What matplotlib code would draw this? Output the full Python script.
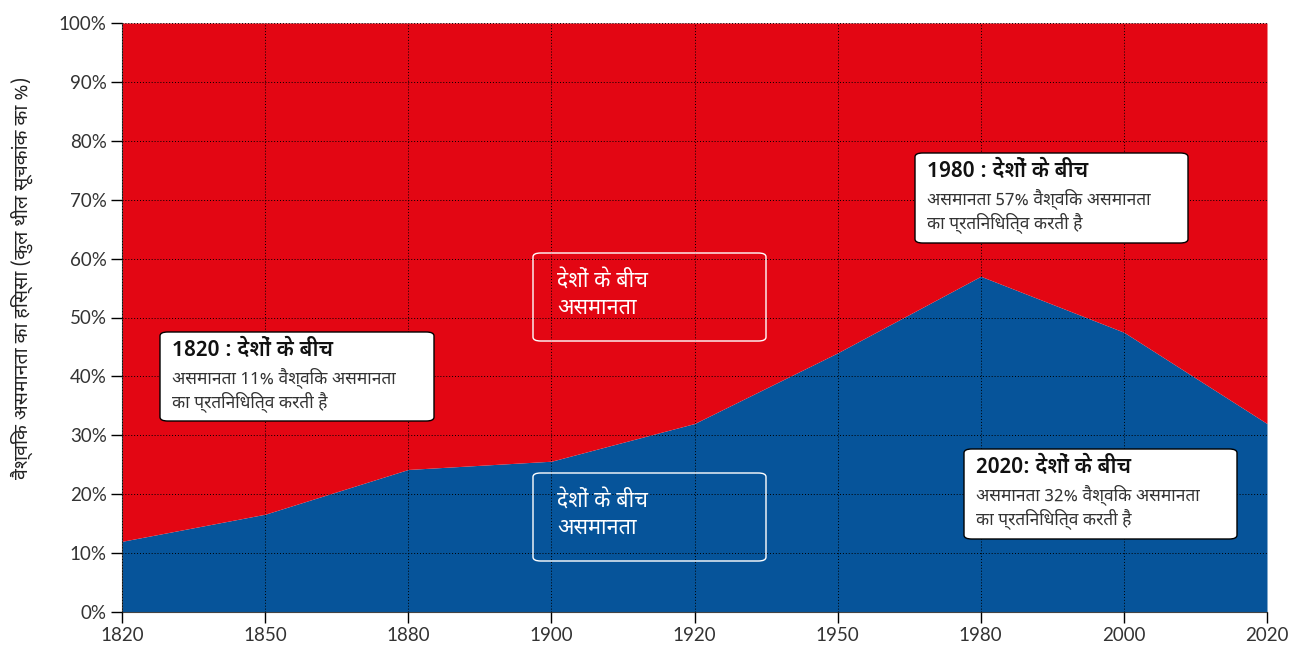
import matplotlib
matplotlib.use("Agg")
import matplotlib.pyplot as plt
from matplotlib import font_manager
from matplotlib.ft2font import FT2Font
from matplotlib.patches import FancyBboxPatch

years = ["1820", "1850", "1880", "1900", "1920", "1950", "1980", "2000", "2020"]
between = [12.0, 16.6, 24.2, 25.6, 32.0, 44.0, 57.0, 47.5, 32.0]
yticks = [0, 10, 20, 30, 40, 50, 60, 70, 80, 90, 100]

ylabel = "वैश्विक असमानता का हिस्सा (कुल थील सूचकांक का %)"
band_label = "देशों के बीच\nअसमानता"
notes = [
    ("1820 : देशों के बीच", "असमानता 11% वैश्विक असमानता\nका प्रतिनिधित्व करती है"),
    ("1980 : देशों के बीच", "असमानता 57% वैश्विक असमानता\nका प्रतिनिधित्व करती है"),
    ("2020: देशों के बीच", "असमानता 32% वैश्विक असमानता\nका प्रतिनिधित्व करती है"),
]

RED = "#e30613"
BLUE = "#06549a"


# pick a proportional font with Devanagari glyphs
def score(name):
    n = name.lower()
    s = 0
    if "mono" in n or "code" in n:
        s -= 100
    for k, v in [("noto sans devanagari", 50), ("mukta", 40), ("lohit", 30),
                 ("sans", 20), ("gargi", 10), ("free", -5)]:
        if k in n:
            s += v
    return s


cands = []
for path in font_manager.findSystemFonts():
    try:
        if 0x0926 in FT2Font(path).get_charmap():
            name = font_manager.FontProperties(fname=path).get_name()
            font_manager.fontManager.addfont(path)
            cands.append((score(name), name))
    except Exception:
        pass
cands.sort(reverse=True)
deva = cands[0][1] if cands else None
fam = [deva, "DejaVu Sans"] if deva else ["DejaVu Sans"]
plt.rcParams["font.family"] = fam

W, H = 1292, 646
fig = plt.figure(figsize=(W / 100, H / 100), dpi=100)
ax = fig.add_axes([122 / W, 1 - 612 / H, (1267 - 122) / W, (612 - 23) / H])

x = list(range(len(years)))
ax.fill_between(x, 0, between, color=BLUE, lw=0, zorder=1)
ax.fill_between(x, between, 100, color=RED, lw=0, zorder=1)
ax.set_xlim(0, len(years) - 1)
ax.set_ylim(0, 100)
ax.set_xticks(x)
ax.set_xticklabels(years)
ax.set_yticks(yticks)
ax.set_yticklabels([f"{v}%" for v in yticks])
ax.grid(True, color="black", ls=(0, (1, 2)), lw=0.7, zorder=2)
ax.set_axisbelow(False)
ax.tick_params(length=8, width=1, labelsize=13.5, pad=3, labelcolor="#333333")
for lab in ax.get_xticklabels() + ax.get_yticklabels():
    lab.set_fontfamily(["Lato", "DejaVu Sans"])
for s in ["top", "right"]:
    ax.spines[s].set_visible(False)
ax.spines["left"].set_color("#444444")
ax.spines["bottom"].set_color("#444444")

fig.text(22 / W, 1 - 278 / H, ylabel, rotation=90, ha="center", va="center",
         fontsize=14, color="#222222")


def px(xp, yp):
    return xp / W, 1 - yp / H


def box(x0, y0, x1, y1, fc, ec):
    p = FancyBboxPatch(px(x0, y1), (x1 - x0) / W, (y1 - y0) / H,
                       boxstyle="round,pad=0,rounding_size=0.006",
                       transform=fig.transFigure, fc=fc, ec=ec, lw=1,
                       zorder=5)
    fig.add_artist(p)


# band labels
for (x0, y0, x1, y1) in [(533, 253, 766, 341), (533, 473, 766, 561)]:
    box(x0, y0, x1, y1, "none", "white")
    fig.text(*px(557, y0 + 17), band_label, color="white", fontsize=15.5,
             va="top", ha="left", linespacing=1.35, zorder=6)

# note boxes
for (x0, y0, x1, y1), (head, body) in zip(
        [(160, 332, 434, 421), (915, 153, 1188, 243), (964, 449, 1237, 539)],
        notes):
    box(x0, y0, x1, y1, "white", "black")
    fig.text(*px(x0 + 12, y0 + 7), head, fontsize=15.5, fontweight="semibold",
             va="top", ha="left", color="#111111", zorder=6)
    fig.text(*px(x0 + 12, y0 + 35), body, fontsize=12.5, va="top", ha="left",
             color="#333333", linespacing=1.2, zorder=6)

fig.savefig("out.png", dpi=100)
